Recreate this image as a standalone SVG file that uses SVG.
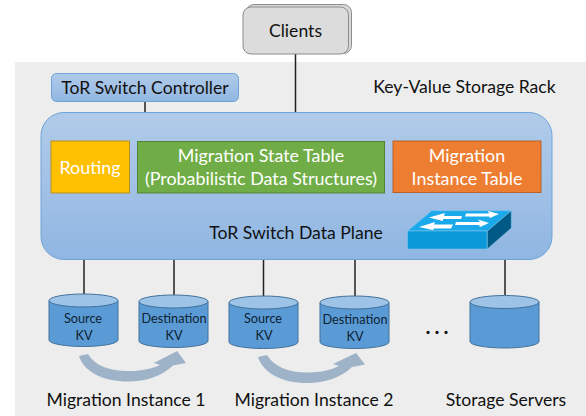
<svg xmlns="http://www.w3.org/2000/svg" width="586" height="416" viewBox="0 0 586 416">
<style>
text{font-family:"Lato","Open Sans","Liberation Sans",sans-serif;fill:#111;text-anchor:middle}
.t16{font-size:17.6px}
.w{fill:#fff;font-size:17.9px}
.s{font-size:12.7px;fill:#0d2233}
.l{stroke:#222;stroke-width:1.5;fill:none}
.body{fill:#5b9bd5;stroke:#41719c;stroke-width:1}
.top{fill:#9dc3e6;stroke:#41719c;stroke-width:1}
.arc{fill:#9eb3c7}
</style>
<defs>
<linearGradient id="g1" x1="0" y1="0" x2="0" y2="1"><stop offset="0" stop-color="#b0cbe9"/><stop offset="0.5" stop-color="#a2c1e6"/><stop offset="1" stop-color="#8fb6e2"/></linearGradient>
<g id="cyl"><path class="body" d="M0,7V46.500A34.500,6.500 0 0 0 69,46.500V7Z"/><ellipse class="top" cx="34.500" cy="7" rx="34.500" ry="6.500"/></g>
</defs>
<rect x="15" y="62" width="571" height="354" fill="#ededed"/>
<g id="connectors">
<path class="l" d="M295.500,54V113M145,101V113M84,259V294M174,259V295M263.500,259V296M355,259V296M505,259V295"/>
</g>
<g id="clients">
<rect x="246" y="4.500" width="105.500" height="49" rx="8" fill="#d9d9d9" stroke="#8c8c8c"/>
<rect x="243" y="7" width="105.500" height="47" rx="8" fill="#dcdcdc" stroke="#8c8c8c"/>
<text class="t16" x="295.500" y="37">Clients</text>
</g>
<g id="controller">
<rect x="51.500" y="73.500" width="187" height="28" rx="5" fill="url(#g1)" stroke="#6fa4d8"/>
<text class="t16" x="145" y="94">ToR Switch Controller</text>
</g>
<text class="t16" x="464.500" y="93">Key-Value Storage Rack</text>
<g id="data-plane">
<rect x="41" y="112.500" width="511" height="147" rx="23" fill="url(#g1)" stroke="#6fa4d8"/>
<text class="t16" x="296" y="239">ToR Switch Data Plane</text>
</g>
<g id="routing"><rect x="51" y="141" width="78.500" height="52" fill="#ffc000" stroke="#b78f22"/><text class="w" x="90" y="174">Routing</text></g>
<g id="state-table"><rect x="137.500" y="141.500" width="247" height="51.500" fill="#70ad47" stroke="#558335"/><text class="w" x="261" y="162">Migration State Table</text><text class="w" x="261" y="185">(Probabilistic Data Structures)</text></g>
<g id="instance-table"><rect x="393" y="141" width="148" height="51.500" fill="#ed7d31" stroke="#b6622a"/><text class="w" x="467" y="162">Migration</text><text class="w" x="467" y="185">Instance Table</text></g>
<g id="switch-icon">
<path d="M407.500,231L431.700,210.700H511.300L487.300,231Z" fill="#1aa9ea" stroke="#7cc8ee" stroke-width=".6"/>
<path d="M407.500,231H487.300V249H407.500Z" fill="#0a98d8" stroke="#7cc8ee" stroke-width=".6"/>
<path d="M487.300,231L511.300,210.700V228L487.300,249Z" fill="#005a85" stroke="#7cc8ee" stroke-width=".6"/>
<path fill="#fff" d="M429,217.500L445,213L444,216H462L461,219H443L443,221ZM466,213.500H489L488,211L499,214L490,218L489,216.500H465ZM419,227L435,222L434,224.500H453L451,228.500H434L433,230ZM456,222H480L478,219.500L489,223L480,227L479,225H455Z"/>
</g>
<g id="source-1"><use href="#cyl" x="49" y="293.500"/><text class="s" x="83" y="323">Source</text><text class="s" x="84" y="340">KV</text></g>
<g id="dest-1"><use href="#cyl" x="139" y="294.500"/><text class="s" x="174" y="323">Destination</text><text class="s" x="174" y="340">KV</text></g>
<g id="source-2"><use href="#cyl" x="229" y="295.500"/><text class="s" x="263" y="323">Source</text><text class="s" x="264" y="340">KV</text></g>
<g id="dest-2"><use href="#cyl" x="320" y="295.500"/><text class="s" x="355" y="324">Destination</text><text class="s" x="355" y="341">KV</text></g>
<g id="server-n"><use href="#cyl" x="470" y="295"/></g>
<text x="439" y="333.500" style="font-size:21px;font-weight:700;letter-spacing:4px">...</text>
<path id="arrow-1" class="arc" d="M79,356L88,354C95,366 110,371 128,371C140,371 151,369 160,365L154,363L177,351L186,363L173,365.500C162,376 146,381.500 128,381.500C103,381.500 84,372 79,356Z"/>
<path id="arrow-2" class="arc" d="M258,357L267,355C274,367 289,372.500 307,372.500C319,372.500 330,370.500 339,366L333,364L356,353L365,364.500L352,367C341,377.500 325,383 307,383C282,383 263,373 258,357Z"/>
<text class="t16" x="126" y="406">Migration Instance 1</text>
<text class="t16" x="314" y="406">Migration Instance 2</text>
<text class="t16" x="506" y="406">Storage Servers</text>
</svg>
